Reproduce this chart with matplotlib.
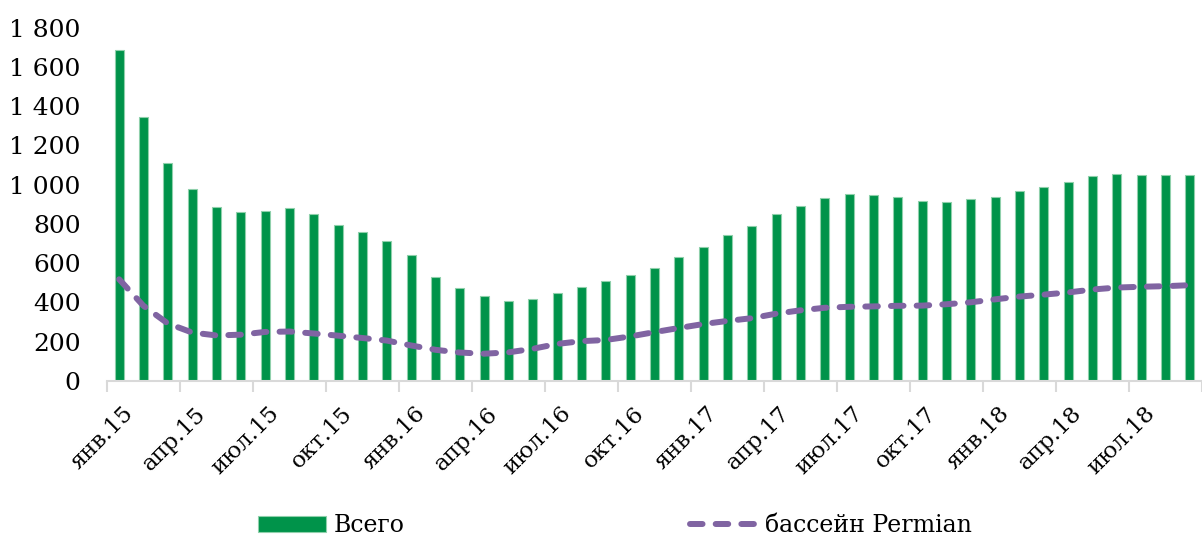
import matplotlib.pyplot as plt
import matplotlib.transforms as mtransforms
import numpy as np

# monthly data, янв.15 .. сен.18
months = ['янв', 'фев', 'мар', 'апр', 'май', 'июн', 'июл', 'авг', 'сен', 'окт', 'ноя', 'дек']
labels = [m + '.' + str(y) for y in (15, 16, 17, 18) for m in months][:45]

total = [1685, 1345, 1110, 978, 888, 862, 866, 882, 850, 792, 760, 712,
         642, 532, 475, 435, 408, 416, 450, 480, 507, 542, 578, 633,
         684, 745, 790, 852, 892, 932, 952, 948, 938, 918, 913, 928,
         938, 968, 988, 1012, 1045, 1055, 1048, 1048, 1048]
permian = [518, 383, 293, 247, 232, 236, 250, 252, 242, 231, 219, 206,
           181, 159, 145, 139, 146, 164, 189, 203, 209, 227, 249, 270,
           290, 306, 320, 343, 360, 373, 378, 380, 383, 384, 391, 401,
           416, 430, 440, 451, 466, 476, 480, 483, 488]

plt.rcParams['font.family'] = ['DejaVu Serif']

fig = plt.figure(figsize=(12.02, 5.39), dpi=100)
ax = fig.add_axes([0.089, 0.2931, 0.911, 0.6558])

x = np.arange(len(total))
bars = ax.bar(x, total, width=0.36, color='#00934a', edgecolor='#8fd0ab', linewidth=0.8,
              zorder=2)
line, = ax.plot(x, permian, color='#8064a2', linewidth=4.3, dashes=(2.1, 2.2),
                dash_capstyle='round', solid_capstyle='round', zorder=3)

ax.set_xlim(-0.5, len(total) - 0.5)
ax.set_ylim(0, 1800)
ax.set_yticks(range(0, 1801, 200))
ax.set_yticklabels([f'{v:,}'.replace(',', ' ') for v in range(0, 1801, 200)], fontsize=18)
ax.tick_params(axis='y', length=0, pad=19)

ax.set_xticks(x[::3])
ax.set_xticklabels(labels[::3], rotation=45, ha='right', va='top',
                   rotation_mode='anchor', fontsize=16.5)
ax.tick_params(axis='x', which='major', length=0, pad=15.5)
shift = mtransforms.ScaledTranslation(3 / 100, 0, fig.dpi_scale_trans)
for lab in ax.get_xticklabels():
    lab.set_transform(lab.get_transform() + shift)
ax.set_xticks(np.arange(-0.5, len(total), 3), minor=True)
ax.tick_params(axis='x', which='minor', length=8, width=1.5, color='#d9d9d9')

for s in ['top', 'right', 'left']:
    ax.spines[s].set_visible(False)
ax.spines['bottom'].set_color('#d9d9d9')
ax.spines['bottom'].set_linewidth(1.5)

fig.legend([bars, line], ['Всего', 'бассейн Permian'], loc='center',
           bbox_to_anchor=(615 / 1202, 1 - 526 / 539), ncol=2,
           frameon=False, handlelength=2.88, handleheight=0.68,
           columnspacing=12.1, handletextpad=0.3,
           prop={'family': 'DejaVu Serif', 'size': 17})

fig.savefig('out.png', dpi=100)
